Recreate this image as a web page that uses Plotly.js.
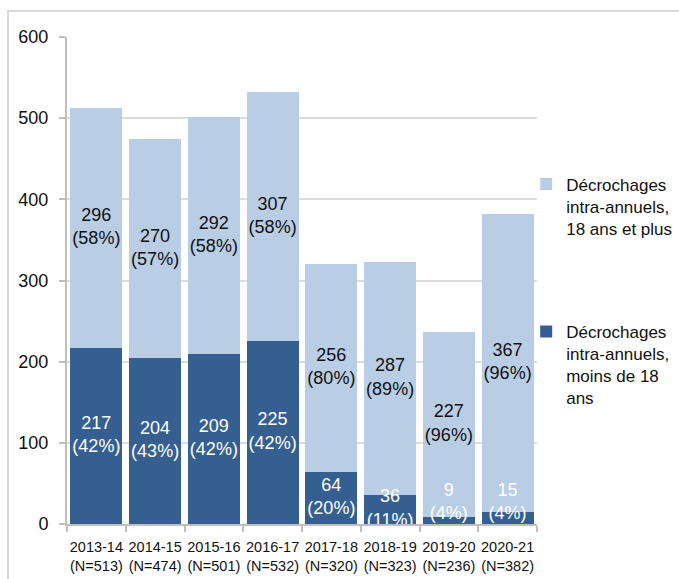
<!DOCTYPE html>
<html>
<head>
<meta charset="utf-8">
<script src="https://cdn.plot.ly/plotly-3.0.1.min.js"></script>
<style>
  html, body { margin: 0; padding: 0; background: #ffffff; }
  #wrap { position: relative; width: 679px; height: 579px; }
  #chart { position: absolute; left: 0; top: 0; width: 679px; height: 579px; }
  #frame { position: absolute; left: 7px; top: 10px; right: 0; bottom: 0;
           border-top: 2px solid #d9d9d9; border-left: 2px solid #d9d9d9; pointer-events: none; }
</style>
</head>
<body>
<div id="wrap">
  <div id="chart"></div>
  <div id="frame"></div>
</div>
<script>
// ---- data ----
var years = ["2013-14", "2014-15", "2015-16", "2016-17", "2017-18", "2018-19", "2019-20", "2020-21"];
var totalN = [513, 474, 501, 532, 320, 323, 236, 382];
var under18 = [217, 204, 209, 225, 64, 36, 9, 15];
var under18Pct = [42, 43, 42, 42, 20, 11, 4, 4];
var over18 = [296, 270, 292, 307, 256, 287, 227, 367];
var over18Pct = [58, 57, 58, 58, 80, 89, 96, 96];
var seriesNames = ["Décrochages<br>intra-annuels,<br>moins de 18<br>ans",
                   "Décrochages<br>intra-annuels,<br>18 ans et plus"];

var FONT = '"Liberation Sans", Arial, sans-serif';
var DARK = "#365f91", LIGHT = "#b9cde5";

var cats = years.map(function (y, i) { return y + "<br>(N=" + totalN[i] + ")"; });

function lbl(v, p) { return v + "<br>(" + p + "%)"; }

var traces = [
  { type: "bar", x: cats, y: under18, name: seriesNames[0], legendgroup: "a", legendrank: 2,
    marker: { color: DARK }, hoverinfo: "y" },
  { type: "bar", x: cats, y: over18, name: seriesNames[1], legendgroup: "b", legendrank: 1,
    marker: { color: LIGHT }, hoverinfo: "y" },
  { type: "scatter", mode: "text", x: cats, showlegend: false, hoverinfo: "skip", cliponaxis: true,
    y: under18.map(function (v) { return v < 20 ? 26 : v / 2; }),
    text: under18.map(function (v, i) { return lbl(v, under18Pct[i]); }),
    textfont: { family: FONT, size: 18, color: "#ffffff" } },
  { type: "scatter", mode: "text", x: cats, showlegend: false, hoverinfo: "skip", cliponaxis: true,
    y: over18.map(function (v, i) { return under18[i] + v / 2; }),
    text: over18.map(function (v, i) { return lbl(v, over18Pct[i]); }),
    textfont: { family: FONT, size: 18, color: "#111111" } }
];

var layout = {
  width: 679, height: 579,
  margin: { l: 67, r: 142, t: 37, b: 55, autoexpand: false },
  paper_bgcolor: "rgba(0,0,0,0)", plot_bgcolor: "rgba(0,0,0,0)",
  barmode: "stack", bargap: 0.115,
  font: { family: FONT, color: "#111111" },
  showlegend: true,
  legend: { x: 0.977, xanchor: "left", y: 0.734, yanchor: "top",
            traceorder: "grouped", tracegroupgap: 78, valign: "top",
            font: { family: FONT, size: 17, color: "#111111" } },
  xaxis: { type: "category", showline: true, linecolor: "#bfbfbf", linewidth: 2, tickangle: 0,
           ticks: "outside", tickson: "boundaries", ticklen: 6, tickcolor: "#bfbfbf", tickwidth: 2,
           ticklabelstandoff: 9,
           showgrid: false, tickfont: { family: FONT, size: 14.5, color: "#111111" } },
  yaxis: { range: [0, 600], dtick: 100, showline: true, linecolor: "#bfbfbf", linewidth: 2,
           ticks: "outside", ticklen: 6, tickcolor: "#bfbfbf", tickwidth: 2,
           gridcolor: "#dcdcdc", gridwidth: 2, zeroline: false, ticklabelstandoff: 7,
           tickfont: { family: FONT, size: 18, color: "#111111" } }
};

Plotly.newPlot("chart", traces, layout, { displayModeBar: false, staticPlot: true });
</script>
</body>
</html>
